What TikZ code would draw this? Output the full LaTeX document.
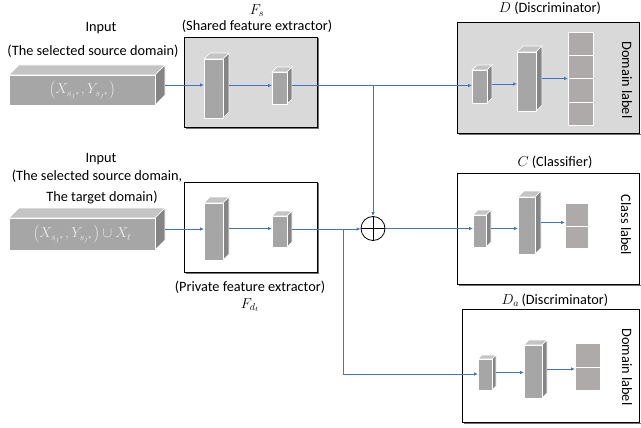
\documentclass[tikz,border=0pt]{standalone}
\usepackage{fontspec}
\setmainfont{Carlito}
\usetikzlibrary{arrows.meta}
\definecolor{arrblue}{HTML}{4472C4}
\definecolor{boxgray}{HTML}{D9D9D9}
\definecolor{cfront}{HTML}{A6A6A6}
\definecolor{ctop}{HTML}{C4C4C4}
\definecolor{cside}{HTML}{858585}
\definecolor{sqc}{HTML}{AEAAAA}
\definecolor{intext}{HTML}{EDEDED}
\newcommand\cubeblk[7]{% name x1 y1 x2 y2 d text
  \fill[ctop,draw=white,line width=0.7pt] (#2,#3) -- (#2+#6,#3-#6) -- (#4+#6,#3-#6) -- (#4,#3) -- cycle;
  \fill[cside,draw=white,line width=0.7pt] (#4,#3) -- (#4+#6,#3-#6) -- (#4+#6,#5-#6) -- (#4,#5) -- cycle;
  \node[fill=cfront,draw=white,line width=0.7pt,inner sep=0,anchor=north west,
        minimum width={(#4-#2)*1pt},minimum height={(#5-#3)*1pt},text=intext,font=\fontsize{14.5}{16}\selectfont] (#1) at (#2,#3) {#7};
  \coordinate (#1-r) at (#4+#6,{(#3+#5)/2-#6/2});
}
\newcommand\cellstack[6]{% name x1 y1 x2 y2 n
  \pgfmathsetmacro\cellh{(#5-#3)/#6}
  \foreach \k in {1,...,#6}{
    \node[fill=sqc,draw=white,line width=0.8pt,inner sep=0,anchor=north west,
          minimum width={(#4-#2)*1pt},minimum height={\cellh*1pt}] (#1-\k) at (#2,{#3+(\k-1)*\cellh}) {};
  }
  \coordinate (#1) at (#2,{(#3+#5)/2});
}
\begin{document}
\begin{tikzpicture}[x=1pt,y=-1pt,
  arr/.style={draw=arrblue,line width=0.8pt,-{Latex[length=4pt,width=3.5pt]}},
  ln/.style={draw=arrblue,line width=0.8pt},
  framebox/.style={draw=black,line width=0.8pt},
  shadowbox/.style={draw=black!55,line width=1.4pt},
  lbl/.style={font=\fontsize{14.3}{16}\selectfont,inner sep=0},
  rlbl/.style={font=\fontsize{14.3}{16}\selectfont,inner sep=0,rotate=-90}]
\useasboundingbox (0,0) rectangle (641,428);

% frames
\draw[shadowbox] (185.5,128.5) -- (318.5,128.5) -- (318.5,38.5);
\filldraw[framebox,fill=boxgray] (184,37) rectangle (317,127);
\draw[shadowbox] (458.5,134.5) -- (640.5,134.5);
\filldraw[framebox,fill=boxgray] (457,22) rectangle (639,133);
\draw[shadowbox] (185.5,273.5) -- (318.5,273.5) -- (318.5,183.5);
\filldraw[framebox,fill=white] (184,182) rectangle (317,272);
\draw[shadowbox] (458.5,285.5) -- (640.5,285.5);
\filldraw[framebox,fill=white] (457,173) rectangle (639,284);
\draw[shadowbox] (463.5,423.5) -- (640.5,423.5);
\filldraw[framebox,fill=white] (462,309) rectangle (639,422);

% labels
\node[lbl] (tfs) at (257,11) {$F_s$};
\node[lbl] (tshared) at (257,26) {(Shared feature extractor)};
\node[lbl] (tin1) at (101,28) {Input};
\node[lbl] (tsrc1) at (93,51) {(The selected source domain)};
\node[lbl] (td) at (550,8) {$D$ (Discriminator)};
\node[lbl] (tin2) at (101,159) {Input};
\node[lbl] (tsrc2) at (97,176) {(The selected source domain,};
\node[lbl] (ttgt) at (102,197) {The target domain)};
\node[lbl] (tc) at (555,162) {$C$ (Classifier)};
\node[lbl] (tpriv) at (250,287) {(Private feature extractor)};
\node[lbl] (tfd) at (250,305) {$F_{d_t}$};
\node[lbl] (tda) at (555,300) {$D_a$\,(Discriminator)};
\node[rlbl] (dl1) at (627,80) {Domain label};
\node[rlbl] (cl) at (626,225) {Class label};
\node[rlbl] (dl2) at (627,367) {Domain label};

% blocks
\cubeblk{in1}{9}{75}{155}{105}{10}{$\left(X_{s_{j^*}},Y_{s_{j^*}}\right)$}
\cubeblk{s1}{204}{59}{223}{118}{6}{}
\cubeblk{s2}{272}{72}{287}{104}{5}{}
\cubeblk{d1}{472}{70}{487}{103}{5}{}
\cubeblk{d2}{517}{52}{536}{111}{6}{}
\cellstack{dout}{568}{32}{593}{125}{4}

\cubeblk{in2}{9}{218}{155}{250}{10}{$\left(X_{s_{j^*}},Y_{s_{j^*}}\right)\cup X_t$}
\cubeblk{p1}{204}{203}{223}{260}{6}{}
\cubeblk{p2}{272}{216}{287}{247}{5}{}
\cubeblk{c1}{473}{215}{486}{247}{5}{}
\cubeblk{c2}{518}{197}{535}{254}{6}{}
\cellstack{cout}{565}{203}{588}{248}{2}

\cubeblk{a1}{478}{359}{492}{390}{4}{}
\cubeblk{a2}{524}{345}{542}{398}{5}{}
\cellstack{aout}{575}{343}{600}{390}{2}

\node[circle,draw=black,line width=0.8pt,minimum size=24pt,inner sep=0] (plus) at (373,228.5) {};
\draw[line width=0.8pt] (plus.north) -- (plus.south) (plus.west) -- (plus.east);

% connectors
\draw[arr] (in1-r) -- (in1-r -| s1.west);
\draw[arr] (s1-r) -- (s1-r -| s2.west);
\coordinate (j1) at (plus.north |- s2-r);
\draw[arr] (s2-r) -- (s2-r -| d1.west);
\draw[arr] (j1) -- (plus.north);
\draw[arr] (d1-r) -- (d1-r -| d2.west);
\draw[arr] (d2-r) -- (d2-r -| dout.west);

\draw[arr] (in2-r) -- (in2-r -| p1.west);
\draw[arr] (p1-r) -- (p1-r -| p2.west);
\draw[arr] (p2-r) -- (p2-r -| plus.west);
\draw[arr] (plus.east) -- (plus.east -| c1.west);
\draw[arr] (c1-r) -- (c1-r -| c2.west);
\draw[arr] (c2-r) -- (c2-r -| cout.west);

\coordinate (j2) at (343,228.5);
\coordinate (j3) at (343,374);
\draw[ln] (j2) -- (j3);
\draw[arr] (j3) -- (j3 -| a1.west);
\draw[arr] (a1-r) -- (a1-r -| a2.west);
\draw[arr] (a2-r) -- (a2-r -| aout.west);
\end{tikzpicture}
\end{document}
